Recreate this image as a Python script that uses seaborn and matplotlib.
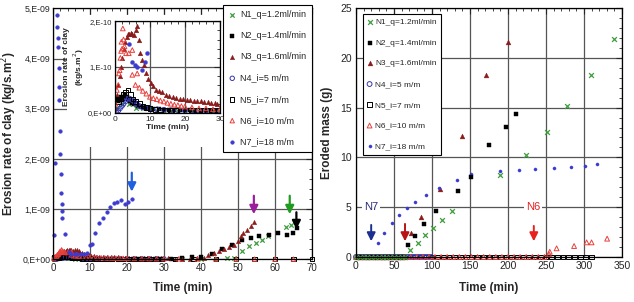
import numpy as np
import pandas as pd
import seaborn as sns
import matplotlib
matplotlib.use("Agg")
import matplotlib.pyplot as plt
from matplotlib.ticker import FuncFormatter, MultipleLocator, AutoMinorLocator
from matplotlib.patches import Rectangle


# ============================================
# DATA - LEFT PANEL (erosion rate, in 1E-10 kg/s.m2)
# ============================================

N1_t = [0.5, 2, 4, 6, 8, 10, 12, 14, 16, 18, 20, 22, 24, 26, 28, 29.5,
        35, 40, 44, 47, 48.9, 51.2, 53, 54.8, 56.6, 58, 62.9, 64.3]
N1_v = [0.1, 0.2, 0.2, 0.1, 0.1, 0.1, 0.05, 0.05, 0.05, 0.05, 0.05, 0.05, 0.05, 0.05, 0.05, 0.05,
        0.05, 0.1, 0.1, 0.2, 0.3, 1.6, 2.6, 3.3, 3.9, 4.6, 6.5, 6.9]

N2_t = [0.3, 0.8, 1.3, 1.8, 2.3, 2.8, 3.3, 3.8, 4.3, 4.8, 5.5, 6.5, 7.5, 8.5, 9.5, 11,
        12.5, 14, 15.5, 17, 18.5, 20, 21.5, 23, 24.5, 26, 27.5, 29, 32, 35, 37.5, 40,
        43, 45.7, 48.5, 51.2, 53.4, 55.7, 58.4, 60.7, 63.2, 64.8, 66]
N2_v = [0.3, 0.25, 0.3, 0.35, 0.3, 0.4, 0.35, 0.3, 0.25, 0.22, 0.2, 0.15, 0.12, 0.1, 0.1, 0.08,
        0.08, 0.07, 0.07, 0.06, 0.06, 0.06, 0.06, 0.05, 0.05, 0.05, 0.05, 0.05, 0.1, 0.2, 0.4, 0.5,
        1.0, 2.0, 2.9, 3.8, 4.2, 4.6, 4.9, 5.2, 4.9, 5.2, 6.2]

N3_t = [0.2, 0.6, 1.0, 1.4, 1.8, 2.2, 2.6, 3.0, 3.4, 3.8, 4.2, 4.6, 5.0, 5.5, 6.0, 6.4,
        6.9, 7.3, 7.8, 8.4, 9.0, 9.6, 10.2, 11, 11.7, 12.5, 13.5, 14.5, 15.6, 16.5, 17.5, 18.5,
        19.5, 20.5, 21.5, 22.5, 23.5, 24.5, 25.5, 26.5, 27.5, 28.5, 29.2, 31, 33, 35, 37, 39,
        40.8, 42, 43.5, 45, 46.2, 47.5, 48.9, 50, 50.7, 51.5, 52.5, 53.4, 54.3]
N3_v = [0.1, 0.4, 0.6, 0.8, 1.0, 1.2, 1.4, 1.55, 1.65, 1.72, 1.73, 1.75, 1.72, 1.7, 1.8, 1.89,
        1.59, 1.3, 1.15, 1.04, 0.86, 0.75, 0.65, 0.58, 0.5, 0.48, 0.45, 0.4, 0.36, 0.34, 0.33, 0.3,
        0.3, 0.29, 0.28, 0.27, 0.26, 0.25, 0.24, 0.23, 0.22, 0.21, 0.2, 0.15, 0.12, 0.1, 0.12, 0.15,
        0.3, 0.8, 1.3, 1.6, 2.0, 2.4, 2.9, 3.6, 4.6, 5.2, 5.9, 6.6, 7.5]

N4_t = [0.5, 1.0, 1.5, 2.0, 2.5, 3.0, 3.5, 4.0, 4.5, 5.0, 5.5, 6.0, 6.5, 7, 8, 9,
        10, 12, 14, 16, 18, 20, 22, 24, 26, 28, 30]
N4_v = [0.0, 0.05, 0.1, 0.15, 0.2, 0.25, 0.3, 0.32, 0.3, 0.28, 0.25, 0.2, 0.18, 0.15, 0.12, 0.1,
        0.1, 0.08, 0.07, 0.06, 0.06, 0.05, 0.05, 0.05, 0.05, 0.05, 0.05]

N5_t = [0.3, 1.0, 1.7, 2.4, 3.1, 3.8, 4.5, 5.2, 6.0, 7, 8, 9, 10, 11.5, 13, 14.5,
        16, 17.5, 19, 20.5, 22, 23.5, 25, 26.5, 28, 29.5, 33, 38, 44, 49.5, 54.5, 60, 65, 70]
N5_v = [0.3, 0.25, 0.3, 0.4, 0.45, 0.5, 0.4, 0.3, 0.25, 0.2, 0.15, 0.12, 0.1, 0.08, 0.06, 0.05,
        0.05, 0.05, 0.05, 0.05, 0.05, 0.05, 0.05, 0.05, 0.05, 0.05, 0, 0, 0, 0, 0, 0, 0, 0]

N6_t = [0.2, 0.6, 1.0, 1.2, 1.4, 1.6, 1.8, 1.9, 2.1, 2.3, 2.5, 2.8, 3.2, 4.0, 5.0, 5.0,
        5.9, 6.4, 7, 8, 9, 10, 11, 12, 13, 14, 15, 16, 17, 18, 19, 20,
        22, 24, 26, 28, 30, 34, 39, 44, 49.5, 54.5, 60, 65]
N6_v = [0.2, 0.5, 0.61, 0.86, 0.93, 1.2, 1.35, 1.55, 1.4, 1.84, 1.6, 1.45, 1.3, 1.3, 1.37, 0.83,
        0.61, 0.86, 0.55, 0.48, 0.42, 0.35, 0.32, 0.3, 0.27, 0.25, 0.22, 0.2, 0.18, 0.17, 0.15, 0.14,
        0.12, 0.1, 0.1, 0.08, 0.08, 0.05, 0.03, 0.02, 0, 0, 0, 0]

N7_t = [0.3, 0.6, 1.0, 1.2, 1.3, 1.4, 1.5, 1.6, 1.7, 1.8, 2.0, 2.1, 2.2, 2.3, 2.4, 2.5,
        3.2, 4.2, 5.0, 5.9, 6.4, 7.7, 8.5, 9.3, 10.0, 10.5, 11.4, 12.5, 13.4, 14.6, 15.5, 16.4,
        17.4, 18.4, 19.5, 20.4, 21.3]
N7_v = [4.9, 19.2, 48.6, 46.3, 44.2, 42.3, 38.2, 34.3, 31.8, 25.5, 21.0, 16.9, 13.1, 11.0, 9.5, 8.2,
        5.0, 1.5, 1.1, 1.04, 1.0, 0.93, 1.1, 1.3, 2.9, 3.1, 5.2, 7.3, 8.3, 9.3, 10.3, 11.1,
        11.3, 11.8, 11.0, 11.4, 11.9]

# arrows marking the end of each test (left panel)
L_ARROW_T = [21.3, 54.3, 64.0, 65.8]
L_ARROW_TOP = [17.8, 13.2, 13.2, 9.9]
L_ARROW_TIP = [12.9, 8.4, 8.4, 5.4]
L_ARROW_COL = ["#1f5fe0", "#9b1f9b", "#1f9b1f", "black"]


# ============================================
# DATA - RIGHT PANEL (eroded mass, g)
# ============================================

R_N1_t = [0, 5, 10, 15, 20, 25, 30, 35, 40, 45, 50, 55, 60, 65,
          71, 81, 91, 101, 113, 127, 189.5, 224, 251, 278, 309, 339]
R_N1_m = [0, 0, 0, 0, 0, 0, 0, 0, 0, 0, 0, 0, 0, 0,
          0.7, 1.37, 2.2, 2.9, 3.7, 4.65, 8.2, 10.2, 12.6, 15.2, 18.3, 21.9]

R_N2_t = [2, 8, 14, 20, 26, 32, 38, 44, 50, 56, 62,
          69, 77, 89.5, 105, 134, 151, 175.5, 198, 210.5]
R_N2_m = [0, 0, 0, 0, 0, 0, 0, 0, 0, 0, 0,
          1.2, 2.1, 3.3, 4.6, 6.6, 8.0, 11.2, 13.1, 14.4]

R_N3_t = [1, 4, 7, 10, 13, 16, 19, 22, 25, 28, 31, 34, 37, 40, 43, 46, 49, 52, 55, 58, 61, 64,
          72, 85, 110.5, 140, 170.5, 200.5]
R_N3_m = [0, 0, 0, 0, 0, 0, 0, 0, 0, 0, 0, 0, 0, 0, 0, 0, 0, 0, 0, 0, 0, 0,
          2.4, 4.05, 6.8, 12.1, 18.3, 21.6]

R_N4_t = [0, 3, 6, 9, 12, 15, 18, 21, 24, 27, 30, 33, 36, 39, 42, 45, 48,
          51, 54, 57, 60, 63, 66, 69, 72, 75, 78, 81, 84, 87, 90, 93, 96, 99]
R_N4_m = [0, 0, 0, 0, 0, 0, 0, 0, 0, 0, 0, 0, 0, 0, 0, 0, 0,
          0, 0, 0, 0, 0, 0, 0, 0, 0, 0, 0, 0, 0, 0, 0, 0, 0]

R_N5_t = [62.5, 70, 77.5, 85, 92.5, 100, 107.5, 115, 122.5, 130, 137.5, 145, 152.5, 160, 167.5, 175, 182.5,
          190, 197.5, 205, 212.5, 220, 227.5, 235, 242.5, 250, 257.5, 265, 272.5, 280, 287.5, 295, 302.5, 310]
R_N5_m = [0, 0, 0, 0, 0, 0, 0, 0, 0, 0, 0, 0, 0, 0, 0, 0, 0,
          0, 0, 0, 0, 0, 0, 0, 0, 0, 0, 0, 0, 0, 0, 0, 0, 0]

R_N6_t = [0, 8, 16, 24, 32, 40, 48, 56, 64, 72, 80, 88, 96, 104, 112, 120, 128, 136, 144, 152,
          160, 168, 176, 184, 192, 200, 208, 216, 224, 232, 240, 248,
          254, 255, 264, 287, 303.5, 310, 330.5]
R_N6_m = [0, 0, 0, 0, 0, 0, 0, 0, 0, 0, 0, 0, 0, 0, 0, 0, 0, 0, 0, 0,
          0, 0, 0, 0, 0, 0, 0, 0, 0, 0, 0, 0,
          0.3, 0.53, 0.87, 1.1, 1.47, 1.47, 1.84]

R_N7_t = [0, 4, 8, 12, 16, 20, 29.4, 36.8, 47, 57, 67.5, 77.6, 92, 109.6, 132.5, 151,
          189.5, 214.5, 235.5, 261, 282.5, 301, 317.5]
R_N7_m = [0, 0, 0, 0, 0, 0, 1.44, 2.4, 3.45, 4.2, 4.9, 5.5, 6.2, 6.9, 7.7, 8.3,
          8.65, 8.7, 8.8, 8.9, 9.07, 9.17, 9.3]

# arrows + tags (right panel)
R_ARROW_T = [20, 64.5, 234]
R_ARROW_TOP = [3.5, 3.6, 3.4]
R_ARROW_TIP = [1.3, 1.3, 1.3]
R_ARROW_COL = ["#1a2f8f", "#b81414", "#e8201e"]
R_TAGS = ["N7", "N6"]
R_TAG_T = [20, 233]
R_TAG_M = [5.0, 5.0]
R_TAG_COL = ["#2b2b7a", "#e8201e"]


# ============================================
# STYLE
# ============================================

LABELS = {
    "N1": "N1_q=1.2ml/min", "N2": "N2_q=1.4ml/min", "N3": "N3_q=1.6ml/min",
    "N4": "N4_i=5 m/m", "N5": "N5_i=7 m/m", "N6": "N6_i=10 m/m", "N7": "N7_i=18 m/m",
}
MARK = {
    "N1": ("x", "#3d9e3d", True), "N2": ("s", "black", True), "N3": ("^", "#8b1a1a", True),
    "N4": ("o", "#3535b0", False), "N5": ("s", "black", False), "N6": ("^", "#e8403c", False),
    "N7": ("o", "#3b3bd0", True),
}

sns.set_style("white")
plt.rcParams["font.family"] = ["Liberation Sans", "DejaVu Sans"]
plt.rcParams["axes.linewidth"] = 0.9


def draw(ax, t, v, key, s, label=None, clip=False):
    marker, col, filled = MARK[key]
    kw = dict(marker=marker, color=col, s=s, ax=ax, label=label, zorder=2)
    if marker == "x":
        kw.update(linewidths=0.9)
    elif filled:
        kw.update(edgecolor=col, linewidth=0.3)
    else:
        kw.update(facecolor="none", edgecolor=col, linewidth=0.7)
    pc = sns.scatterplot(x=t, y=v, **kw)
    pc.collections[-1].set_clip_on(clip)
    return pc.collections[-1]


def sci_fmt(v, pos):
    if abs(v) < 1e-30:
        return "0,E+00"
    e = int(np.floor(np.log10(abs(v)) + 1e-9))
    return f"{int(round(v / 10 ** e))},E{e:+03d}"


def grid_axes(ax, size):
    ax.grid(True, which="major", color="#555555", lw=0.9)
    ax.tick_params(which="both", direction="in", top=True, right=True,
                   labelsize=size, pad=3)
    ax.tick_params(which="major", length=4)
    ax.tick_params(which="minor", length=2)
    for sp in ax.spines.values():
        sp.set_color("black")


fig = plt.figure(figsize=(6.34, 3.02), dpi=100)

# ============================================
# LEFT PANEL
# ============================================

ax = fig.add_axes([0.0836, 0.142, 0.4084, 0.83])
left_series = {"N1": (N1_t, N1_v), "N2": (N2_t, N2_v), "N3": (N3_t, N3_v), "N4": (N4_t, N4_v),
               "N5": (N5_t, N5_v), "N6": (N6_t, N6_v), "N7": (N7_t, N7_v)}
handles = []
for key, (t, v) in left_series.items():
    size = 7 if key == "N7" else 10
    handles.append(draw(ax, t, np.array(v) * 1e-10, key, size, LABELS[key]))

for t, top, tip, col in zip(L_ARROW_T, L_ARROW_TOP, L_ARROW_TIP, L_ARROW_COL):
    ax.annotate("", xy=(t, tip * 1e-10), xytext=(t, top * 1e-10),
                arrowprops=dict(arrowstyle="-|>,head_width=0.25,head_length=0.5",
                                color=col, lw=1.6), zorder=4)

ax.set_xlim(0, 70)
ax.set_ylim(0, 5e-9)
ax.xaxis.set_major_locator(MultipleLocator(10))
ax.xaxis.set_minor_locator(AutoMinorLocator(5))
ax.yaxis.set_major_locator(MultipleLocator(1e-9))
ax.yaxis.set_minor_locator(AutoMinorLocator(5))
ax.yaxis.set_major_formatter(FuncFormatter(sci_fmt))
grid_axes(ax, 7)
ax.tick_params(axis="y", labelsize=6.3, pad=2)
ax.set_xlabel("Time (min)", fontsize=8.5, fontweight="bold", labelpad=6)
ax.set_ylabel("Erosion rate of clay (kg/s.m$^2$)", fontsize=8.5, fontweight="bold", labelpad=2)

# white box behind the inset
ax.add_artist(Rectangle((0.106, 0.513), 0.247, 0.437, transform=fig.transFigure,
                        facecolor="white", edgecolor="none", zorder=3))

leg = ax.legend(handles, [LABELS[k] for k in left_series], loc="upper right",
                bbox_to_anchor=(1.0, 1.015), fontsize=6.5, frameon=True, fancybox=False,
                edgecolor="black", framealpha=1, borderaxespad=0, handlelength=0.8,
                handletextpad=0.5, labelspacing=1.35, borderpad=0.6)
leg.get_frame().set_linewidth(0.8)
leg.set_zorder(6)

# ============================================
# INSET (first 30 minutes)
# ============================================

ins = fig.add_axes([0.181, 0.626, 0.166, 0.304])
ins.set_facecolor("white")
for key, (t, v) in left_series.items():
    size = 8 if key == "N7" else 11
    draw(ins, t, np.array(v) * 1e-10, key, size, clip=True)
ins.set_xlim(0, 30)
ins.set_ylim(0, 2e-10)
ins.xaxis.set_major_locator(MultipleLocator(10))
ins.yaxis.set_major_locator(MultipleLocator(1e-10))
ins.xaxis.set_minor_locator(AutoMinorLocator(5))
ins.yaxis.set_minor_locator(AutoMinorLocator(5))
ins.yaxis.set_major_formatter(FuncFormatter(sci_fmt))
grid_axes(ins, 6)
ins.tick_params(axis="y", labelsize=5.5, pad=2)
ins.tick_params(axis="x", pad=2)
ins.set_xlabel("Time (min)", fontsize=6, fontweight="bold", labelpad=1)
ins.set_ylabel("Erosion rate of clay\n(kg/s.m$^2$)", fontsize=6, fontweight="bold", labelpad=1)
if ins.get_legend():
    ins.get_legend().remove()

# ============================================
# RIGHT PANEL
# ============================================

ax2 = fig.add_axes([0.5615, 0.149, 0.4195, 0.8245])
right_series = {"N5": (R_N5_t, R_N5_m), "N4": (R_N4_t, R_N4_m), "N6": (R_N6_t, R_N6_m),
                "N3": (R_N3_t, R_N3_m), "N7": (R_N7_t, R_N7_m), "N2": (R_N2_t, R_N2_m),
                "N1": (R_N1_t, R_N1_m)}
rh = {}
for key, (t, m) in right_series.items():
    size = 5 if key == "N7" else 12
    rh[key] = draw(ax2, t, m, key, size, LABELS[key])

for t, top, tip, col in zip(R_ARROW_T, R_ARROW_TOP, R_ARROW_TIP, R_ARROW_COL):
    ax2.annotate("", xy=(t, tip), xytext=(t, top),
                 arrowprops=dict(arrowstyle="-|>,head_width=0.25,head_length=0.5",
                                 color=col, lw=1.4), zorder=4)
for tag, t, m, col in zip(R_TAGS, R_TAG_T, R_TAG_M, R_TAG_COL):
    ax2.text(t, m, tag, color=col, fontsize=8, ha="center", va="center", zorder=4,
             bbox=dict(facecolor="white", edgecolor="none", pad=1.5))

ax2.set_xlim(0, 350)
ax2.set_ylim(0, 25)
ax2.xaxis.set_major_locator(MultipleLocator(50))
ax2.xaxis.set_minor_locator(AutoMinorLocator(5))
ax2.yaxis.set_major_locator(MultipleLocator(5))
ax2.yaxis.set_minor_locator(AutoMinorLocator(5))
grid_axes(ax2, 7.5)
ax2.set_xlabel("Time (min)", fontsize=8.5, fontweight="bold", labelpad=8)
ax2.set_ylabel("Eroded mass (g)", fontsize=8.5, fontweight="bold", labelpad=5)

order = ["N1", "N2", "N3", "N4", "N5", "N6", "N7"]
leg2 = ax2.legend([rh[k] for k in order], [LABELS[k] for k in order], loc="upper left",
                  bbox_to_anchor=(0.026, 0.976), fontsize=6, frameon=True, fancybox=False,
                  edgecolor="black", framealpha=1, borderaxespad=0, handlelength=0.6,
                  handletextpad=0.4, labelspacing=1.55, borderpad=0.5)
leg2.get_frame().set_linewidth(0.8)
leg2.set_zorder(6)

fig.savefig("out.png", dpi=100)
